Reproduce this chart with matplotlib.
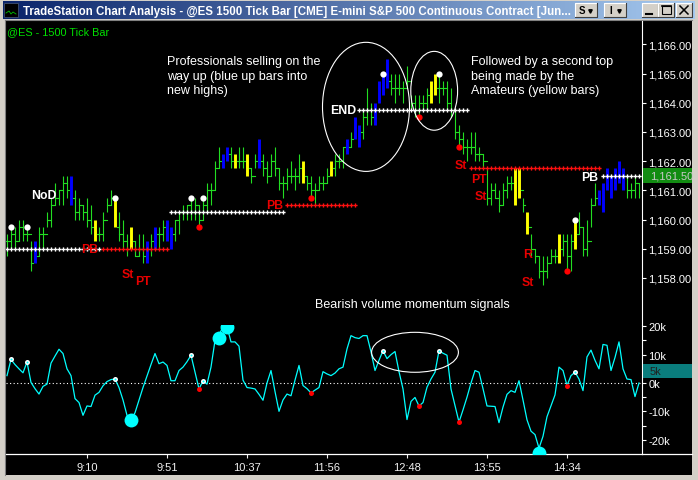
import numpy as np
import matplotlib
matplotlib.use('Agg')
import matplotlib.pyplot as plt
from matplotlib.patches import Rectangle, Ellipse
from matplotlib.colors import LinearSegmentedColormap
from matplotlib import transforms

W, H = 698, 481
plt.rcParams['font.family'] = ['Liberation Sans', 'DejaVu Sans']

# ---------------- data ----------------
HIGHS = [1159.5, 1159.75, 1159.75, 1160.0, 1160.0, 1159.75, 1159.25, 1159.25, 1159.75, 1159.75,
         1160.25, 1160.75, 1161.25, 1161.0, 1161.5, 1161.5, 1161.5, 1161.0, 1160.75, 1160.5,
         1160.75, 1160.5, 1160.0, 1159.75, 1160.25, 1160.75, 1161.0, 1160.75, 1160.25, 1160.0,
         1159.5, 1159.75, 1159.25, 1159.5, 1159.5, 1159.25, 1159.5, 1159.75, 1159.75, 1160.0,
         1160.0, 1159.75, 1160.0, 1160.25, 1160.5, 1160.5, 1160.75, 1160.75, 1160.5, 1160.75,
         1161.25, 1161.25, 1162.0, 1162.5, 1162.25, 1162.5, 1162.5, 1162.25, 1162.5, 1162.5,
         1162.25, 1161.75, 1162.25, 1162.75, 1162.25, 1162.0, 1162.25, 1162.5, 1161.75, 1161.5,
         1161.75, 1162.0, 1161.75, 1162.25, 1162.0, 1161.5, 1161.5, 1161.25, 1161.5, 1161.5,
         1161.75, 1162.0, 1162.25, 1162.25, 1162.5, 1162.75, 1163.0, 1163.5, 1163.25, 1163.75,
         1164.5, 1164.0, 1164.0, 1164.75, 1165.0, 1165.5, 1165.0, 1165.0, 1165.0, 1164.75,
         1165.25, 1164.25, 1164.25, 1164.25, 1164.25, 1164.5, 1164.75, 1165.0, 1165.0, 1164.75,
         1164.75, 1164.5, 1163.75, 1163.25, 1163.0, 1162.75, 1163.0, 1163.0, 1162.5, 1162.25,
         1161.75, 1161.25, 1161.25, 1161.0, 1161.25, 1161.5, 1161.5, 1161.75, 1161.75, 1160.75,
         1160.25, 1159.5, 1159.0, 1158.75, 1158.75, 1158.75, 1159.0, 1159.0, 1159.5, 1159.5,
         1159.5, 1159.5, 1160.0, 1160.25, 1159.75, 1160.0, 1160.75, 1161.25, 1161.0, 1161.25,
         1161.75, 1161.5, 1161.75, 1162.0, 1161.75, 1161.5, 1161.25, 1161.5, 1161.25]
LOWS = [1158.75, 1159.0, 1159.0, 1159.25, 1159.25, 1159.25, 1158.25, 1158.5, 1158.75, 1159.0,
        1159.75, 1159.75, 1160.5, 1160.5, 1160.5, 1160.75, 1160.5, 1160.0, 1160.0, 1160.0,
        1159.75, 1159.5, 1159.25, 1159.25, 1159.25, 1160.25, 1160.5, 1159.75, 1159.25, 1159.0,
        1158.75, 1159.0, 1158.75, 1158.75, 1158.5, 1158.5, 1158.75, 1159.0, 1159.0, 1159.25,
        1159.25, 1159.0, 1159.25, 1159.5, 1160.0, 1160.0, 1160.0, 1160.0, 1159.75, 1160.0,
        1160.25, 1160.5, 1161.0, 1161.75, 1161.75, 1162.0, 1161.75, 1161.75, 1161.75, 1161.75,
        1161.5, 1161.25, 1161.75, 1161.75, 1161.5, 1161.25, 1161.5, 1161.5, 1161.0, 1160.75,
        1161.0, 1161.25, 1161.0, 1161.25, 1161.25, 1161.0, 1160.75, 1160.5, 1161.0, 1161.0,
        1161.25, 1161.5, 1161.5, 1161.75, 1161.75, 1162.25, 1162.5, 1162.75, 1162.5, 1162.75,
        1163.25, 1163.25, 1163.25, 1164.0, 1164.25, 1164.5, 1164.25, 1164.0, 1164.25, 1164.0,
        1164.5, 1163.75, 1163.5, 1163.5, 1163.75, 1163.75, 1164.0, 1164.25, 1164.0, 1164.25,
        1163.75, 1163.5, 1162.75, 1162.5, 1162.25, 1162.0, 1162.25, 1162.0, 1162.0, 1161.75,
        1160.5, 1160.5, 1160.75, 1160.25, 1160.5, 1160.75, 1161.0, 1160.5, 1160.75, 1160.25,
        1159.5, 1158.75, 1158.5, 1158.0, 1157.75, 1158.0, 1158.5, 1158.5, 1158.5, 1158.75,
        1158.25, 1158.25, 1159.0, 1159.5, 1158.75, 1158.75, 1159.75, 1160.5, 1160.5, 1160.25,
        1161.0, 1160.75, 1161.0, 1161.25, 1161.0, 1160.75, 1160.75, 1160.75, 1160.75]
CLOSES = [1159.25, 1159.5, 1159.25, 1159.75, 1159.5, 1159.5, 1158.5, 1158.75, 1159.5, 1159.5,
          1160.0, 1160.5, 1160.75, 1161.0, 1161.25, 1161.0, 1160.75, 1160.25, 1160.5, 1160.25,
          1160.0, 1159.75, 1159.5, 1159.5, 1160.0, 1160.5, 1160.75, 1159.75, 1159.5, 1159.25,
          1159.0, 1159.25, 1158.75, 1159.0, 1158.75, 1159.0, 1159.25, 1159.5, 1159.5, 1159.75,
          1159.5, 1159.5, 1160.0, 1160.25, 1160.25, 1160.5, 1160.25, 1160.5, 1160.0, 1160.5,
          1161.0, 1161.0, 1161.75, 1162.0, 1162.0, 1162.25, 1162.0, 1162.0, 1162.0, 1162.0,
          1161.75, 1161.5, 1162.0, 1162.0, 1161.75, 1161.5, 1162.0, 1161.75, 1161.25, 1161.25,
          1161.5, 1161.5, 1161.5, 1161.75, 1161.5, 1161.25, 1161.0, 1161.0, 1161.25, 1161.25,
          1161.5, 1161.75, 1162.0, 1162.0, 1162.5, 1162.5, 1162.75, 1163.0, 1163.0, 1163.5,
          1163.75, 1163.5, 1163.75, 1164.5, 1164.75, 1164.75, 1164.5, 1164.5, 1164.5, 1164.5,
          1164.75, 1164.0, 1163.75, 1164.0, 1164.0, 1164.25, 1164.5, 1164.5, 1164.5, 1164.5,
          1164.0, 1163.75, 1163.0, 1162.75, 1162.5, 1162.5, 1162.5, 1162.25, 1162.25, 1162.0,
          1160.75, 1161.0, 1160.75, 1160.5, 1161.0, 1161.25, 1161.25, 1161.0, 1161.0, 1160.5,
          1159.75, 1159.0, 1158.75, 1158.25, 1158.25, 1158.5, 1158.75, 1158.75, 1159.0, 1159.25,
          1158.75, 1159.25, 1159.5, 1159.75, 1159.0, 1159.25, 1160.5, 1160.75, 1160.75, 1161.0,
          1161.25, 1161.25, 1161.25, 1161.5, 1161.5, 1161.0, 1161.0, 1161.25, 1161.5]
BLUE_BARS = [7, 16, 35, 37, 40, 41, 54, 55, 63, 85, 87, 88, 92, 93, 94, 95,
             148, 149, 150, 151, 152, 153, 154]
YELLOW_BARS = [22, 27, 31, 57, 60, 74, 81, 106, 107, 127, 128, 130, 138, 142]
SWING_HIGH_BARS = [1, 5, 27, 46, 49, 94, 108, 142]
SWING_LOW_BARS = [48, 76, 103, 113, 140]

# dotted support/resistance levels
LEVEL_START = [0, 24, 41, 70, 88, 116, 149]
LEVEL_END = [23, 40, 69, 87, 115, 148, 158]
LEVEL_PRICE = [1159.0, 1159.0, 1160.25, 1160.5, 1163.75, 1161.75, 1161.5]
LEVEL_COLOR = ['white', 'red', 'white', 'red', 'white', 'red', 'white']

# signal labels
SIG_BAR = [9.1, 20.75, 30.25, 34.0, 67.0, 84.0, 113.5, 118.0, 118.5, 130.1, 130.25, 145.75]
SIG_PRICE = [1160.84, 1159.0, 1158.14, 1157.9, 1160.5, 1163.75, 1161.87, 1161.4, 1160.8,
             1158.82, 1157.86, 1161.46]
SIG_TEXT = ['NoD', 'PB', 'St', 'PT', 'PB', 'END', 'St', 'PT', 'St', 'R', 'St', 'PB']
SIG_COLOR = ['white', 'red', 'red', 'red', 'red', 'white', 'red', 'red', 'red', 'red', 'red', 'white']

# volume momentum oscillator (thousands)
OSC = [2.6, 8.3, 6.5, 5.0, 3.6, 7.4, 0.2, -2.0, -3.9, -1.2,
       -0.4, 7.0, 9.5, 11.9, 10.4, 5.0, 2.6, -5.5, -6.9, -11.4,
       -8.1, -8.3, -4.3, -3.3, -1.0, 0.5, 1.2, 1.4, -1.6, -6.0,
       -11.4, -12.9, -10.5, -6.0, -1.6, 2.5, 6.5, 10.4, 6.8, 7.4,
       6.2, 0.8, 0.8, 4.4, 5.6, 7.5, 9.8, 3.8, -2.1, 0.8,
       -0.4, 5.6, 15.0, 16.9, 19.9, 19.9, 14.5, 14.5, 13.0, 1.0,
       -1.6, -1.8, -2.1, -4.0, -6.1, 0.0, 4.4, -3.0, -10.0, -6.0,
       -3.9, -4.5, 1.0, 6.2, -0.9, -2.0, -3.5, -2.5, -1.6, 4.0,
       3.2, 2.6, 3.5, 5.0, 5.6, 12.0, 16.7, 16.0, 15.7, 16.7,
       16.7, 11.0, 4.4, 8.0, 11.4, 8.6, 10.0, 11.1, 4.0, -2.1,
       -12.9, -6.5, -5.1, -8.1, -6.9, -1.5, 1.4, 3.8, 11.4, 10.5,
       9.8, -2.1, -8.0, -13.8, -9.5, -5.0, 0.0, 4.4, 3.8, -2.0,
       -8.1, -8.2, -8.3, -14.0, -8.5, -4.0, -2.7, -3.3, 0.8, -6.0,
       -13.0, -17.0, -18.2, -23.0, -18.8, -11.9, -8.0, -4.2, 5.6, 4.4,
       -0.9, 2.6, 3.8, 1.4, -2.7, 9.2, 11.6, 8.0, 5.0, 13.6,
       13.3, 4.4, 9.0, 14.5, 5.0, 1.4, 1.2, -4.8, 0.0]
BIG_DOT_BAR = [31, 53, 55, 133]
BIG_DOT_VAL = [-12.9, 16.0, 19.8, -24.8]
OSC_LAST_LABEL = '5k'
OSC_LAST_VALUE = 4.3

TIME_TICKS = [20, 40, 60, 80, 100, 120, 140]
TIME_LABELS = ['9:10', '9:51', '10:37', '11:56', '12:48', '13:55', '14:34']
PRICE_TICKS = [1158, 1159, 1160, 1161, 1162, 1163, 1164, 1165, 1166]
OSC_TICKS = [-20, -10, 0, 10, 20]

assert len(HIGHS) == len(LOWS) == len(CLOSES) == len(OSC) == 159

# ---------------- figure ----------------
fig = plt.figure(figsize=(W / 100, H / 100), dpi=100, facecolor='#d4d0c8')


def px_rect(x0, y0, x1, y1):
    return [x0 / W, 1 - y1 / H, (x1 - x0) / W, (y1 - y0) / H]


bg = fig.add_axes([0, 0, 1, 1], zorder=0)
bg.set_xlim(0, W)
bg.set_ylim(H, 0)
bg.axis('off')

# window chrome
bg.add_patch(Rectangle((6, 22), 686, 454, facecolor='black', edgecolor='none', zorder=1))
bg.plot([5, 5], [21, 476], color='#808080', lw=0.8, zorder=2)
bg.plot([5, 692], [21, 21], color='#808080', lw=0.8, zorder=2)
grad = np.linspace(0, 1, 256).reshape(1, -1)
cmap = LinearSegmentedColormap.from_list('tb', ['#0a246a', '#a6caf0'])
bg.imshow(grad, cmap=cmap, extent=(3, 695, 20, 2), aspect='auto', zorder=1)
# icon
bg.add_patch(Rectangle((4, 4), 14, 14, facecolor='black', edgecolor='#405070', lw=0.6, zorder=2))
bg.plot([6, 9, 11, 13, 16], [14, 12, 15, 13, 15], color='#00c000', lw=0.6, zorder=3)
bg.text(23, 11.5, 'TradeStation Chart Analysis - @ES 1500 Tick Bar [CME] E-mini S&P 500 '
        'Continuous Contract [Jun...', color='white', fontsize=8.3, fontweight='bold',
        va='center', ha='left', zorder=3)


def button(x0, y0, x1, y1):
    bg.add_patch(Rectangle((x0, y0), x1 - x0, y1 - y0, facecolor='#d4d0c8', edgecolor='none', zorder=3))
    bg.plot([x0, x0, x1], [y1, y0, y0], color='white', lw=0.8, zorder=4)
    bg.plot([x0, x1, x1], [y1, y1, y0], color='#404040', lw=0.8, zorder=4)


button(575, 4, 597, 18)
bg.text(582, 11.5, 'S', fontsize=7, fontweight='bold', ha='center', va='center', color='black', zorder=5)
bg.plot([590], [12], marker='v', ms=2.5, color='black', zorder=5)
button(604, 4, 626, 18)
bg.text(611, 11.5, 'I', fontsize=7, fontweight='bold', ha='center', va='center', color='black', zorder=5)
bg.plot([619], [12], marker='v', ms=2.5, color='black', zorder=5)
button(642, 4, 658, 18)
bg.plot([646, 652], [14.5, 14.5], color='black', lw=1.5, zorder=5)
button(658, 4, 674, 18)
bg.add_patch(Rectangle((661.5, 6.5), 9, 8.5, facecolor='none', edgecolor='black', lw=0.8, zorder=5))
bg.plot([661.5, 670.5], [7.3, 7.3], color='black', lw=1.2, zorder=5)
button(676, 4, 692, 18)
bg.plot([680, 688], [7, 15], color='black', lw=1.1, zorder=5)
bg.plot([680, 688], [15, 7], color='black', lw=1.1, zorder=5)

bg.text(7, 32, '@ES - 1500 Tick Bar', color='#00e000', fontsize=7.8, va='center', ha='left', zorder=3)

# ---------------- price panel ----------------
ax1 = fig.add_axes(px_rect(6, 22, 642, 326), zorder=2)
ax2 = fig.add_axes(px_rect(6, 326, 642, 455), zorder=2)
for a in (ax1, ax2):
    a.set_facecolor('none')
    for s in a.spines.values():
        s.set_visible(False)
    a.spines['right'].set_visible(True)
    a.spines['right'].set_color('white')
    a.spines['right'].set_linewidth(0.8)
    a.set_xlim(-0.25, 158.75)
ax1.set_ylim(1156.39, 1166.80)
ax2.set_ylim(-25.05, 20.46)

x = np.arange(len(HIGHS))
opens = [CLOSES[0]] + CLOSES[:-1]
GREEN = '#22dd22'
for i in x:
    if i in BLUE_BARS or i in YELLOW_BARS:
        c = '#0000ff' if i in BLUE_BARS else '#ffff00'
        ax1.plot([i, i], [LOWS[i], HIGHS[i]], color=c, lw=2.1, solid_capstyle='butt', zorder=3)
    else:
        ax1.plot([i, i], [LOWS[i], HIGHS[i]], color=GREEN, lw=0.8, solid_capstyle='butt', zorder=3)
        ax1.plot([i - 0.5, i], [opens[i], opens[i]], color=GREEN, lw=0.8, zorder=3)
        ax1.plot([i, i + 0.5], [CLOSES[i], CLOSES[i]], color=GREEN, lw=0.8, zorder=3)

for s, e, p, c in zip(LEVEL_START, LEVEL_END, LEVEL_PRICE, LEVEL_COLOR):
    xs = np.arange(s, e + 1)
    ax1.plot(xs, [p] * len(xs), ls='none', marker='P', ms=3.0, mew=0,
             color=('#ff1010' if c == 'red' else 'white'), zorder=4)

ax1.plot(SWING_HIGH_BARS, [HIGHS[i] for i in SWING_HIGH_BARS], ls='none', marker='o',
         ms=4.5, color='white', mew=0, zorder=5)
ax1.plot(SWING_LOW_BARS, [LOWS[i] for i in SWING_LOW_BARS], ls='none', marker='o',
         ms=4.5, color='#ff0000', mew=0, zorder=5)

for b, p, t, c in zip(SIG_BAR, SIG_PRICE, SIG_TEXT, SIG_COLOR):
    ax1.text(b, p, t, color=('#e80000' if c == 'red' else 'white'), fontsize=8.8,
             fontweight='bold', ha='center', va='center', zorder=6)

ax1.add_patch(Ellipse((89.75, 1163.86), 21.75, 4.42, fill=False, edgecolor='white', lw=0.8, zorder=6))
ax1.add_patch(Ellipse((106.8, 1164.41), 11.7, 2.70, fill=False, edgecolor='white', lw=0.8, zorder=6))

ax1.text(40, 1165.62, 'Professionals selling on the\nway up (blue up bars into\nnew highs)',
         color='white', fontsize=9, ha='left', va='top', linespacing=1.27, zorder=6)
ax1.text(116, 1165.62, 'Followed by a second top\nbeing made by the\nAmateurs (yellow bars)',
         color='white', fontsize=9, ha='left', va='top', linespacing=1.27, zorder=6)
ax1.text(77, 1157.11, 'Bearish volume momentum signals', color='white', fontsize=9,
         ha='left', va='center', zorder=6)

ax1.set_xticks([])
ax1.yaxis.tick_right()
ax1.set_yticks(PRICE_TICKS)
ax1.set_yticklabels([f'{v:,.2f}' for v in PRICE_TICKS])
ax1.tick_params(axis='y', colors='white', length=3, width=0.8, pad=1.5, labelsize=8)

# last price box
blend1 = transforms.blended_transform_factory(ax1.transAxes, ax1.transData)
last = CLOSES[-1]
ax1.add_patch(Rectangle((1.002, last - 0.26), 0.077, 0.52, transform=blend1, clip_on=False,
                        facecolor='#128c12', edgecolor='none', zorder=7))
ax1.text(1.012, last, f'{last:,.2f}', transform=blend1, color='#c8c8c8', fontsize=8,
         ha='left', va='center', zorder=8, clip_on=False)

# ---------------- oscillator panel ----------------
ax2.axhline(0, color='white', lw=0.8, ls=(0, (1, 2.2)), zorder=2)
ax2.plot(x, OSC, color='#00ffff', lw=0.9, zorder=3)
ax2.plot(BIG_DOT_BAR, BIG_DOT_VAL, ls='none', marker='o', ms=10, color='#00ffff', mew=0, zorder=4)
ax2.plot(SWING_HIGH_BARS, [OSC[i] for i in SWING_HIGH_BARS], ls='none', marker='o', ms=3.6,
         color='white', mew=0, zorder=5)
ax2.plot(SWING_HIGH_BARS, [OSC[i] for i in SWING_HIGH_BARS], ls='none', marker='o', ms=1.4,
         color='#00ffff', mew=0, zorder=6)
ax2.plot(SWING_LOW_BARS, [OSC[i] for i in SWING_LOW_BARS], ls='none', marker='o', ms=3.6,
         color='#ff0000', mew=0, zorder=5)
ax2.add_patch(Ellipse((102, 10.83), 21.7, 14.1, fill=False, edgecolor='white', lw=0.8, zorder=6))

ax2.spines['bottom'].set_visible(True)
ax2.spines['bottom'].set_color('white')
ax2.spines['bottom'].set_linewidth(0.9)
ax2.yaxis.tick_right()
ax2.set_yticks(OSC_TICKS)
ax2.set_yticklabels([f'{v}k' for v in OSC_TICKS])
ax2.set_yticks([-15, -5, 5, 15], minor=True)
ax2.tick_params(axis='y', which='both', colors='white', length=3, width=0.8, pad=1.5, labelsize=8)
ax2.set_xticks(TIME_TICKS)
ax2.set_xticklabels(TIME_LABELS)
ax2.tick_params(axis='x', colors='#f0f0f0', length=3, width=0.8, pad=2.5, labelsize=8)

blend2 = transforms.blended_transform_factory(ax2.transAxes, ax2.transData)
ax2.add_patch(Rectangle((1.002, OSC_LAST_VALUE - 2.5), 0.077, 5.0, transform=blend2, clip_on=False,
                        facecolor='#0a7d7d', edgecolor='none', zorder=7))
ax2.text(1.012, OSC_LAST_VALUE, OSC_LAST_LABEL, transform=blend2, color='#202020', fontsize=8,
         ha='left', va='center', zorder=8, clip_on=False)

# extend time axis line under price scale
bg.plot([642, 692], [455, 455], color='white', lw=0.9, zorder=3)

fig.savefig('out.png', dpi=100, facecolor=fig.get_facecolor())
